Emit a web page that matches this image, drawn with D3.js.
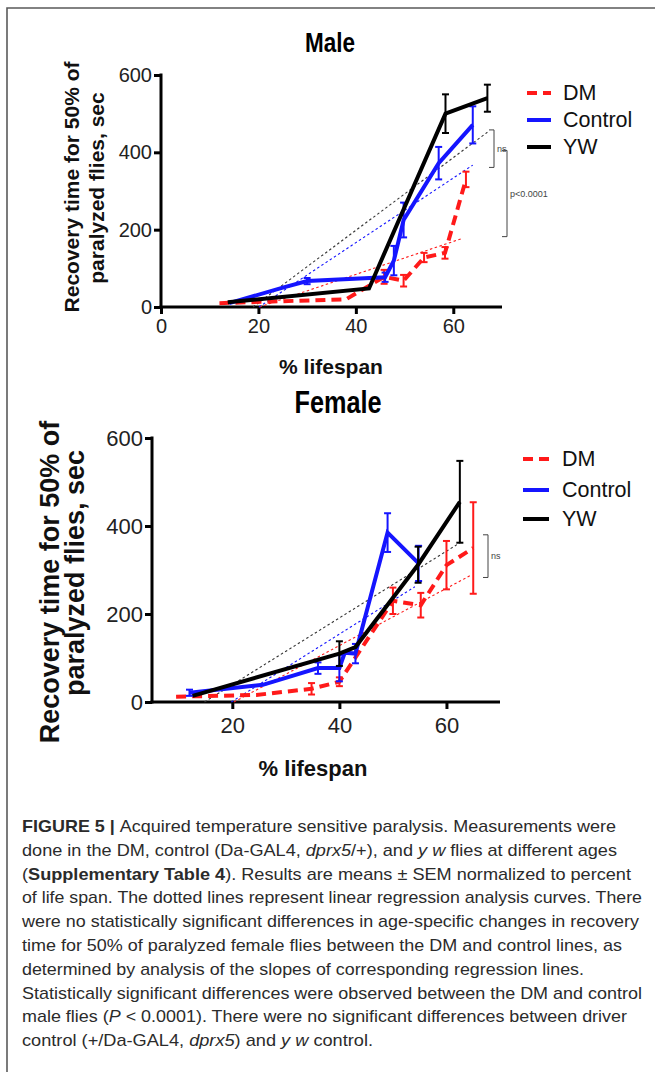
<!DOCTYPE html>
<html><head><meta charset="utf-8">
<script src="https://cdn.jsdelivr.net/npm/d3@7"></script>
<style>
html,body{margin:0;padding:0;background:#fff;}
svg{display:block;}
</style></head>
<body>
<svg id="fig" width="655" height="1072"></svg>
<script>
// ---------- DATA ----------
// each point: [ % lifespan, mean recovery time (sec), SEM ]
const maleDM      = [[12,10,0],[38,20,0],[45.8,78,18],[49.8,68,15],[54,128,12],[58.3,140,15],[62.6,330,20]];
const maleControl = [[14,10,0],[25,50,0],[30,67,8],[46,77,12],[47.8,120,38],[49.8,225,45],[57,372,42],[64,471,48]];
const maleYW      = [[13.7,12,0],[42.7,48,0],[58.4,500,50],[67,540,35]];
// regression lines: [x1, y1, x2, y2]
const maleRegDM      = [20.2,0,62,178];
const maleRegControl = [20.1,0,64,367];
const maleRegYW      = [18.9,0,67,452];

const femaleDM      = [[9.5,12,0],[24.5,16,0],[34.8,30,13],[40,46,10],[50,230,30],[55.2,220,28],[60,311,55],[65,350,104]];
const femaleControl = [[12,21,7],[25.7,39,0],[36,77,13],[40,77,30],[41,112,0],[43,110,22],[49,385,44],[54.8,315,40]];
const femaleYW      = [[12.6,14,0],[40,110,28],[43,125,0],[54.7,312,41],[62.5,455,93]];
const femaleRegDM      = [20.3,0,64.7,289];
const femaleRegControl = [19.8,0,54.1,262];
const femaleRegYW      = [14.8,0,62.8,364];

const yTicks = [0,200,400,600];
const maleXTicks = [0,20,40,60];
const femaleXTicks = [20,40,60];
const seriesNames = ["DM","Control","YW"];
const yTitle = ["Recovery time for 50% of","paralyzed flies, sec"];
const xTitle = "% lifespan";

const captionLines = [
  [["b","FIGURE 5 | "],["n","Acquired temperature sensitive paralysis. Measurements were"]],
  [["n","done in the DM, control (Da-GAL4, "],["i","dprx5"],["n","/+), and "],["i","y w"],["n"," flies at different ages"]],
  [["n","("],["b","Supplementary Table 4"],["n","). Results are means \u00B1 SEM normalized to percent"]],
  [["n","of life span. The dotted lines represent linear regression analysis curves. There"]],
  [["n","were no statistically significant differences in age-specific changes in recovery"]],
  [["n","time for 50% of paralyzed female flies between the DM and control lines, as"]],
  [["n","determined by analysis of the slopes of corresponding regression lines."]],
  [["n","Statistically significant differences were observed between the DM and control"]],
  [["n","male flies ("],["i","P"],["n"," < 0.0001). There were no significant differences between driver"]],
  [["n","control (+/Da-GAL4, "],["i","dprx5"],["n",") and "],["i","y w"],["n"," control."]]
];
const captionWidths = [594,595,609,620,617,600,562,620,605,351];

// ---------- DRAW ----------
const svg = d3.select("#fig");
const FONT = "'Liberation Sans', Arial, Helvetica, sans-serif";
const colors = {DM:"#ff1a1a", Control:"#1515ff", YW:"#000000"};

// frame
svg.append("path").attr("d","M7,1072V8H655").attr("fill","none").attr("stroke","#5a5a5a").attr("stroke-width",1.6);

function panel(cfg){
  const g = svg.append("g");
  const x = d3.scaleLinear().domain(cfg.xDomain).range(cfg.xRange);
  const y = d3.scaleLinear().domain([0,600]).range(cfg.yRange);

  // title (condensed bold)
  g.append("text").attr("x",cfg.titlePos[0]).attr("y",cfg.titlePos[1])
    .attr("text-anchor","middle").attr("font-family",FONT).attr("font-weight","bold")
    .attr("font-size",cfg.titleSize).attr("textLength",cfg.titleLen).attr("lengthAdjust","spacingAndGlyphs")
    .text(cfg.title);

  // axes
  const ya = g.append("g").attr("transform",`translate(${cfg.xRange[0]},0)`)
    .call(d3.axisLeft(y).tickValues(yTicks).tickSize(7).tickSizeOuter(0).tickPadding(2));
  const xa = g.append("g").attr("transform",`translate(0,${cfg.yRange[0]})`)
    .call(d3.axisBottom(x).tickValues(cfg.xTicks).tickSize(7).tickSizeOuter(0).tickPadding(cfg.xTickPad));
  [ya,xa].forEach(a=>{
    a.selectAll("path,line").attr("stroke","#000").attr("stroke-width",3);
    a.selectAll("text").attr("font-family",FONT).attr("font-size",cfg.tickSize).attr("fill","#222");
  });
  ya.select("path").attr("d",`M0,${cfg.yRange[0]+1.5}V${cfg.yRange[1]-1.5}`);
  xa.select("path").attr("d",`M${cfg.xRange[0]-1.5},0H${cfg.xRange[1]}`);

  // axis titles
  g.append("text").attr("x",cfg.xTitlePos[0]).attr("y",cfg.xTitlePos[1])
    .attr("text-anchor","middle").attr("font-family",FONT).attr("font-weight","bold")
    .attr("font-size",cfg.xTitleSize).attr("fill","#111").text(xTitle);
  yTitle.forEach((t,i)=>{
    g.append("text")
      .attr("transform",`translate(${cfg.yTitleX[i]},${cfg.yTitleCY[i]}) rotate(-90)`)
      .attr("text-anchor","middle")
      .attr("font-family",FONT).attr("font-weight","bold").attr("font-size",cfg.yTitleSize)
      .attr("fill","#111").text(t);
  });

  // regression lines
  cfg.regs.forEach((r,i)=>{
    const name = seriesNames[i];
    g.append("line").attr("x1",x(r[0])).attr("y1",y(r[1])).attr("x2",x(r[2])).attr("y2",y(r[3]))
      .attr("stroke", name==="YW" ? "#333" : colors[name]).attr("stroke-width",1.1)
      .attr("stroke-dasharray","2.5,2.5");
  });

  // series lines + error bars
  const line = d3.line().x(d=>x(d[0])).y(d=>y(d[1]));
  cfg.series.forEach((data,i)=>{
    const name = seriesNames[i];
    const c = colors[name];
    const eb = g.append("g");
    data.filter(d=>d[2]>0).forEach(d=>{
      const cx = x(d[0]), y1 = y(d[1]+d[2]), y2 = y(Math.max(0,d[1]-d[2]));
      eb.append("line").attr("x1",cx).attr("x2",cx).attr("y1",y1).attr("y2",y2).attr("stroke",c).attr("stroke-width",2);
      [y1,y2].forEach(yy=>eb.append("line").attr("x1",cx-3.5).attr("x2",cx+3.5).attr("y1",yy).attr("y2",yy).attr("stroke",c).attr("stroke-width",2));
    });
    g.append("path").datum(data).attr("d",line).attr("fill","none").attr("stroke",c)
      .attr("stroke-width",4).attr("stroke-linejoin","miter")
      .attr("stroke-dasharray", name==="DM" ? "10,6" : null);
  });

  // significance brackets
  cfg.brackets.forEach(b=>{
    const xb = b.x, ya1 = y(b.v1), ya2 = y(b.v2);
    g.append("path").attr("d",`M${xb-5},${ya1}H${xb}V${ya2}H${xb-5}`).attr("fill","none")
      .attr("stroke","#444").attr("stroke-width",1);
    g.append("text").attr("x",xb+3).attr("y",(ya1+ya2)/2).attr("dominant-baseline","central")
      .attr("font-family",FONT).attr("font-size",9).attr("fill","#444").text(b.label);
  });

  // legend
  seriesNames.forEach((name,i)=>{
    const ly = cfg.legendY[i];
    g.append("line").attr("x1",cfg.legendX[0]).attr("x2",cfg.legendX[1]).attr("y1",ly).attr("y2",ly)
      .attr("stroke",colors[name]).attr("stroke-width",4)
      .attr("stroke-dasharray", name==="DM" ? "10,6" : null);
    g.append("text").attr("x",cfg.legendX[2]).attr("y",ly).attr("dominant-baseline","central")
      .attr("font-family",FONT).attr("font-size",cfg.legendSize).attr("fill","#111").text(name);
  });
}

panel({
  title:"Male", titlePos:[330,52], titleSize:28, titleLen:50,
  xDomain:[0,70], xRange:[161,502], yRange:[307,75], xTicks:maleXTicks, xTickPad:5,
  tickSize:20, xTitlePos:[331,374], xTitleSize:21,
  yTitleX:[79,104], yTitleCY:[187,188], yTitleSize:21,
  regs:[maleRegDM, maleRegControl, maleRegYW],
  series:[maleDM, maleControl, maleYW],
  brackets:[{x:494,v1:458,v2:361,label:"ns"},{x:507,v1:405,v2:182,label:"p<0.0001"}],
  legendX:[527,551,563], legendY:[93,120,147], legendSize:21.5
});

panel({
  title:"Female", titlePos:[338,413], titleSize:31, titleLen:87,
  xDomain:[5,70], xRange:[152,500], yRange:[702,438], xTicks:femaleXTicks, xTickPad:8,
  tickSize:22, xTitlePos:[313,776], xTitleSize:22,
  yTitleX:[59,84], yTitleCY:[582,573], yTitleSize:27,
  regs:[femaleRegDM, femaleRegControl, femaleRegYW],
  series:[femaleDM, femaleControl, femaleYW],
  brackets:[{x:488,v1:380,v2:283,label:"ns"}],
  legendX:[523,549,562], legendY:[459,490,519], legendSize:21.5
});

// caption
const cap = svg.append("g");
captionLines.forEach((segs,i)=>{
  const t = cap.append("text").attr("x",22).attr("y",832 + i*23.8)
    .attr("font-family",FONT).attr("font-size",17).attr("fill","#2b2b2b")
    .attr("textLength",captionWidths[i]).attr("lengthAdjust","spacingAndGlyphs");
  segs.forEach(s=>{
    const ts = t.append("tspan").text(s[1]);
    if(s[0]==="b") ts.attr("font-weight","bold");
    if(s[0]==="i") ts.attr("font-style","italic");
  });
});
</script>
</body></html>
